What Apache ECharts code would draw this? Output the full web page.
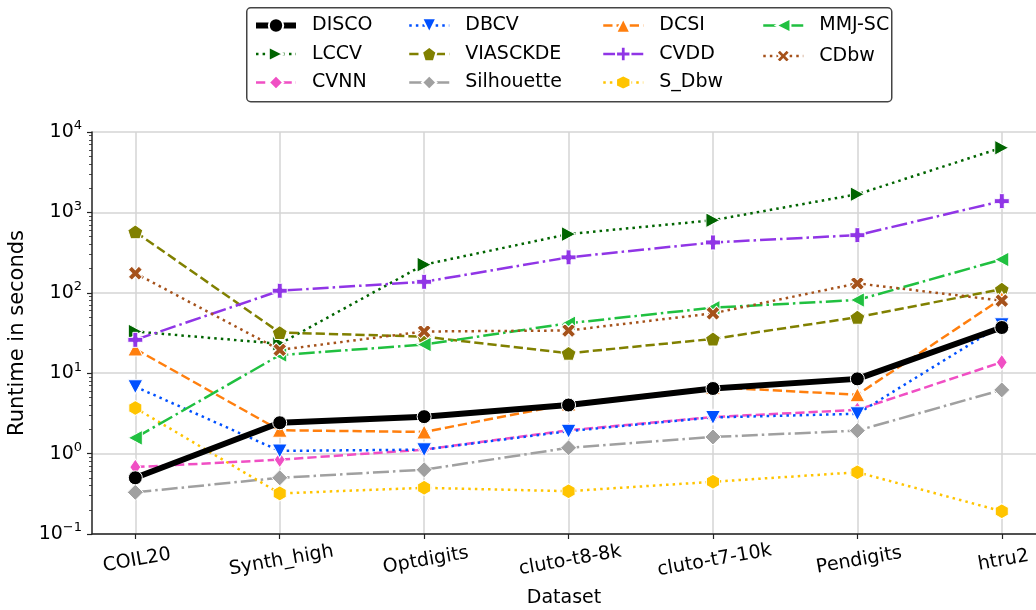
<!DOCTYPE html>
<html>
<head>
<meta charset="utf-8">
<script src="https://cdn.jsdelivr.net/npm/echarts@6/dist/echarts.min.js"></script>
<style>
  html, body { margin: 0; padding: 0; background: #ffffff; }
  #chart { width: 1036px; height: 610px; }
</style>
</head>
<body>
<div id="chart"></div>
<script>
// Runtime (seconds) of each validity index per dataset
const categories = ['COIL20', 'Synth_high', 'Optdigits', 'cluto-t8-8k', 'cluto-t7-10k', 'Pendigits', 'htru2'];

const disco      = [0.50, 2.42, 2.88, 4.02, 6.45, 8.5, 37];
const lccv       = [33, 23.2, 224, 537, 800, 1680, 6380];
const cvnn       = [0.68, 0.84, 1.12, 1.95, 2.85, 3.5, 13.7];
const dbcv       = [6.8, 1.08, 1.12, 1.9, 2.82, 3.13, 40];
const viasckde   = [573, 32, 28.5, 17.7, 26.7, 49.7, 111];
const silhouette = [0.33, 0.50, 0.63, 1.18, 1.61, 1.93, 6.2];
const dcsi       = [20, 1.95, 1.86, 4.15, 6.7, 5.4, 85];
const cvdd       = [26, 106, 137, 276, 423, 521, 1380];
const sDbw       = [3.69, 0.32, 0.375, 0.341, 0.446, 0.586, 0.192];
const mmjSc      = [1.57, 16.8, 22.7, 41.8, 65.3, 81.4, 260];
const cdbw       = [175, 19.5, 33, 34, 55.6, 131, 80];

// y-axis decades, labelled as powers of ten
const yExponents = [-1, 0, 1, 2, 3, 4];

const FONT = 'DejaVu Sans';
const majorTicks = yExponents.map(e => Math.pow(10, e));
const minorTicks = [];
for (let e = -1; e < 4; e++) {
  for (let m = 2; m <= 9; m++) minorTicks.push(+(m * Math.pow(10, e)).toPrecision(6));
}
const categoryTicks = categories.map((c, i) => i);

const DOT = [2.5, 4.1];
const DASH = [9.25, 4];
const DASHDOT = [16, 4, 2.5, 4];

const PENTAGON = 'path://M0,-1 L0.951,-0.309 L0.588,0.809 L-0.588,0.809 L-0.951,-0.309 Z';
const HEXAGON = 'path://M0,-1 L0.866,-0.5 L0.866,0.5 L0,1 L-0.866,0.5 L-0.866,-0.5 Z';
const PLUS = 'path://M-1,-0.33 L-0.33,-0.33 L-0.33,-1 L0.33,-1 L0.33,-0.33 L1,-0.33 L1,0.33 L0.33,0.33 L0.33,1 L-0.33,1 L-0.33,0.33 L-1,0.33 Z';

function makeSeries(name, values, color, dash, symbol, size, rotate, width, z) {
  return {
    name: name,
    type: 'line',
    data: values.map((v, i) => [i, v]),
    symbol: symbol,
    symbolSize: size,
    symbolRotate: rotate || 0,
    showAllSymbol: true,
    z: z || 2,
    lineStyle: { color: color, width: width || 2.5, type: dash, cap: 'butt' },
    itemStyle: { color: color, borderColor: '#ffffff', borderWidth: 1 },
    emphasis: { disabled: true }
  };
}

const series = [
  makeSeries('LCCV', lccv, '#006400', DOT, 'triangle', [15, 14], -90),
  makeSeries('CVNN', cvnn, '#f04fc4', DASH, 'diamond', [11, 16], 0),
  makeSeries('DBCV', dbcv, '#0050ff', DOT, 'triangle', [15, 14], 180),
  makeSeries('VIASCKDE', viasckde, '#808000', DASH, PENTAGON, [15, 14], 0),
  makeSeries('Silhouette', silhouette, '#a0a0a0', DASHDOT, 'diamond', [16, 16], 0),
  makeSeries('DCSI', dcsi, '#ff7f0e', DASH, 'triangle', [15, 14], 0),
  makeSeries('CVDD', cvdd, '#9035e6', DASHDOT, PLUS, [15, 15], 0),
  makeSeries('S_Dbw', sDbw, '#ffc400', DOT, HEXAGON, [13, 15], 0),
  makeSeries('MMJ-SC', mmjSc, '#20c040', DASHDOT, 'triangle', [15, 14], 90),
  makeSeries('CDbw', cdbw, '#a5521b', DOT, PLUS, [15, 15], 45),
  makeSeries('DISCO', disco, '#000000', 'solid', 'circle', 14, 0, 6, 5)
];

const legendText = { fontFamily: FONT, fontSize: 19, color: '#000000', lineHeight: 19, padding: [0, 0, 0, 11] };
function legendColumn(left, names) {
  return {
    orient: 'vertical', left: left, top: 16, padding: 0,
    itemWidth: 40, itemHeight: 18, itemGap: 9.5,
    selectedMode: false,
    lineStyle: { width: 'inherit', type: 'inherit' },
    textStyle: legendText,
    data: names
  };
}

const chart = echarts.init(document.getElementById('chart'), null, { renderer: 'canvas' });
chart.setOption({
  animation: false,
  backgroundColor: '#ffffff',
  textStyle: { fontFamily: FONT },
  graphic: [{
    type: 'rect', left: 246, top: 7, z: -1,
    shape: { width: 645, height: 94, r: 4 },
    style: { fill: '#ffffff', stroke: '#444444', lineWidth: 1.5 }
  }],
  legend: [
    legendColumn(253, ['DISCO', 'LCCV', 'CVNN']),
    legendColumn(408, ['DBCV', 'VIASCKDE', 'Silhouette']),
    legendColumn(602, ['DCSI', 'CVDD', 'S_Dbw']),
    legendColumn(762, ['MMJ-SC', 'CDbw'])
  ],
  grid: { left: 92, top: 132, right: 0, height: 402, containLabel: false, outerBoundsMode: 'none' },
  xAxis: {
    type: 'value', min: -0.3, max: 6.237,
    name: 'Dataset', nameLocation: 'middle', nameGap: 55,
    nameTextStyle: { fontFamily: FONT, fontSize: 19, color: '#000000' },
    axisLine: { show: true, onZero: false, lineStyle: { color: '#222222', width: 1.5 } },
    axisTick: { show: true, length: 5, customValues: categoryTicks, lineStyle: { color: '#222222', width: 1.2 } },
    axisLabel: {
      customValues: categoryTicks,
      formatter: v => categories[Math.round(v)],
      rotate: 10, align: 'center', verticalAlign: 'top', margin: 17,
      fontFamily: FONT, fontSize: 19, color: '#000000'
    },
    splitLine: { show: true, lineStyle: { color: '#d4d4d4', width: 1.5 } }
  },
  yAxis: [{
    type: 'log', logBase: 10, min: 0.1, max: 10000,
    name: 'Runtime in seconds', nameLocation: 'middle', nameGap: 56,
    nameTextStyle: { fontFamily: FONT, fontSize: 21, color: '#000000' },
    axisLine: { show: true, onZero: false, lineStyle: { color: '#222222', width: 1.5 } },
    axisTick: { show: true, length: 5, customValues: majorTicks, lineStyle: { color: '#222222', width: 1.2 } },
    axisLabel: {
      customValues: majorTicks,
      margin: 10,
      formatter: v => {
        const e = Math.round(Math.log10(v));
        return '{b|10}{e|' + (e < 0 ? '\u2212' + (-e) : e) + '}';
      },
      rich: {
        b: { fontFamily: FONT, fontSize: 19, lineHeight: 19, color: '#000000', verticalAlign: 'bottom' },
        e: { fontFamily: FONT, fontSize: 13, lineHeight: 13, color: '#000000', padding: [0, 0, 9, 0], verticalAlign: 'bottom' }
      }
    },
    splitLine: { show: true, lineStyle: { color: '#d4d4d4', width: 1.5 } }
  }, {
    type: 'log', logBase: 10, min: 0.1, max: 10000, position: 'left',
    axisLine: { show: false, onZero: false },
    axisTick: { show: true, length: 3, customValues: minorTicks, lineStyle: { color: '#222222', width: 0.8 } },
    axisLabel: { show: false },
    splitLine: { show: false }
  }],
  series: series
});
</script>
</body>
</html>
